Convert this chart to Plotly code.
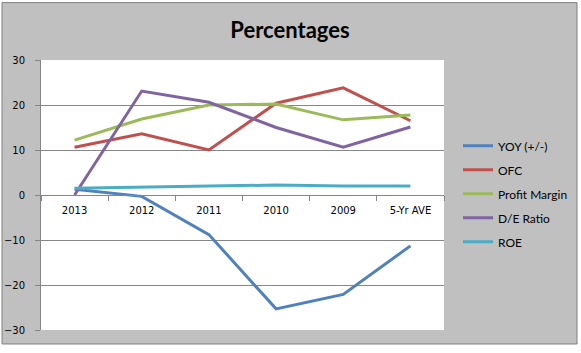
import plotly.graph_objects as go

categories = ["2013", "2012", "2011", "2010", "2009", "5-Yr AVE"]
yoy = [1.3, -0.3, -8.8, -25.3, -22.1, -11.3]
ofc = [10.6, 13.6, 10.0, 20.4, 23.8, 16.5]
profit_margin = [12.2, 16.9, 20.0, 20.2, 16.7, 17.8]
de_ratio = [0.0, 23.1, 20.6, 15.0, 10.6, 15.1]
roe = [1.5, 1.8, 2.0, 2.2, 2.0, 2.0]

series = [
    ("YOY (+/-)", yoy, "#4F81BD"),
    ("OFC", ofc, "#C0504D"),
    ("Profit Margin", profit_margin, "#9BBB59"),
    ("D/E Ratio", de_ratio, "#8064A2"),
    ("ROE", roe, "#4BACC6"),
]

W, H = 581, 353
L, R, T, B = 41, 444, 59.5, 330
pw, ph = R - L, B - T

def px(x):
    return (x - L) / pw

def py(y):
    return (B - y) / ph

fig = go.Figure()
for i, (name, vals, col) in enumerate(series):
    fig.add_trace(go.Scatter(x=categories, y=vals, name=name, mode="lines",
                             line=dict(color=col, width=3), legendgroup=str(i)))

grid = "#868686"
fig.update_layout(
    width=W, height=H,
    margin=dict(l=L, r=W - R, t=T, b=H - B, pad=0, autoexpand=False),
    paper_bgcolor="white",
    plot_bgcolor="white",
    title=dict(text="<b>Percentages</b>", x=px(290), xref="paper", xanchor="center",
               y=1 - 30 / H, yanchor="middle",
               font=dict(family="Lato", size=22, color="black")),
    xaxis=dict(type="category", anchor="free", position=0.5, showline=True,
               linecolor=grid, linewidth=1, ticks="outside", ticklen=5,
               tickcolor=grid, tickson="boundaries", showgrid=False,
               ticklabelstandoff=6, automargin=False,
               tickfont=dict(family="DejaVu Sans", size=10, color="black"),
               range=[-0.5, 5.5], zeroline=False),
    yaxis=dict(range=[-30, 30], tickvals=[-30, -20, -10, 0, 10, 20, 30],
               showgrid=True, gridcolor=grid, gridwidth=1, zeroline=False,
               showline=True, linecolor=grid, linewidth=1, ticks="outside",
               ticklen=5, tickcolor=grid, ticklabelstandoff=8, automargin=False,
               tickfont=dict(family="DejaVu Sans", size=10, color="black")),
    legend=dict(x=px(458), y=py(131), xanchor="left", yanchor="top",
                bgcolor="rgba(0,0,0,0)", tracegroupgap=5,
                font=dict(family="Lato", size=12, color="black")),
    shapes=[
        dict(type="rect", xref="paper", yref="paper", layer="below",
             x0=px(2), x1=px(577), y0=py(344), y1=py(2),
             fillcolor="#C0C0C0", line=dict(color="#808080", width=1)),
        dict(type="rect", xref="paper", yref="paper", layer="below",
             x0=0, x1=1, y0=0, y1=1,
             fillcolor="white", line=dict(width=0)),
    ],
)

fig.write_html("out.html")
